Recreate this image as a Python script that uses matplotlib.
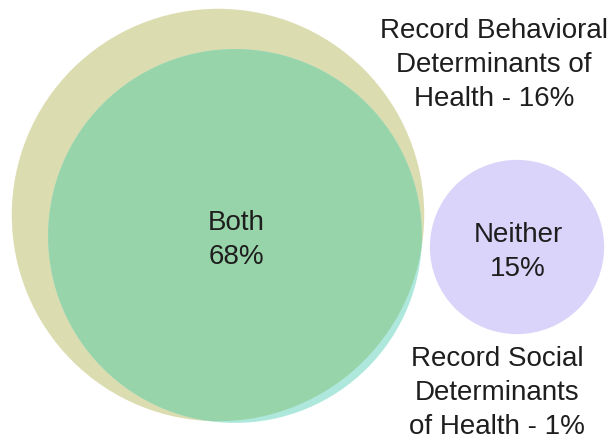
import numpy as np
import matplotlib
matplotlib.use("Agg")
import matplotlib.pyplot as plt
from matplotlib.patches import Circle

# share of records (%)
behavioral_only = 16
social_only = 1
both = 68
neither = 15

labels = ["Record Behavioral\nDeterminants of\nHealth - 16%",
          "Record Social\nDeterminants\nof Health - 1%",
          "Both\n68%",
          "Neither\n15%"]

# circle areas proportional to the set sizes
k = 22.5
r_beh = k * np.sqrt(behavioral_only + both)
r_soc = k * np.sqrt(social_only + both)
r_nei = k * np.sqrt(neither)

plt.rcParams['font.family'] = ['Liberation Sans', 'DejaVu Sans']
fig = plt.figure(figsize=(6.15, 4.44), dpi=100)
ax = fig.add_axes([0, 0, 1, 1])
ax.set_xlim(0, 615)
ax.set_ylim(444, 0)
ax.set_aspect('equal')
ax.axis('off')

beh = Circle((218, 215), r_beh, facecolor="#dbdcb0", edgecolor="none")
soc = Circle((235, 236), r_soc, facecolor="#aee8dc", edgecolor="none")
ax.add_patch(beh)
ax.add_patch(soc)
overlap = Circle((235, 236), r_soc, facecolor="#98d4aa", edgecolor="none")
ax.add_patch(overlap)
overlap.set_clip_path(beh)
nei = Circle((517, 247), r_nei, facecolor="#dad4fa", edgecolor="none")
ax.add_patch(nei)

txt = dict(ha="center", va="center", color="#1e1e1e", fontsize=20, linespacing=1.42)
ax.text(494, 65, labels[0], **txt)
ax.text(497, 393, labels[1], **txt)
ax.text(236, 240, labels[2], **txt)
ax.text(518, 252, labels[3], **txt)

fig.savefig("out.png", dpi=100)
